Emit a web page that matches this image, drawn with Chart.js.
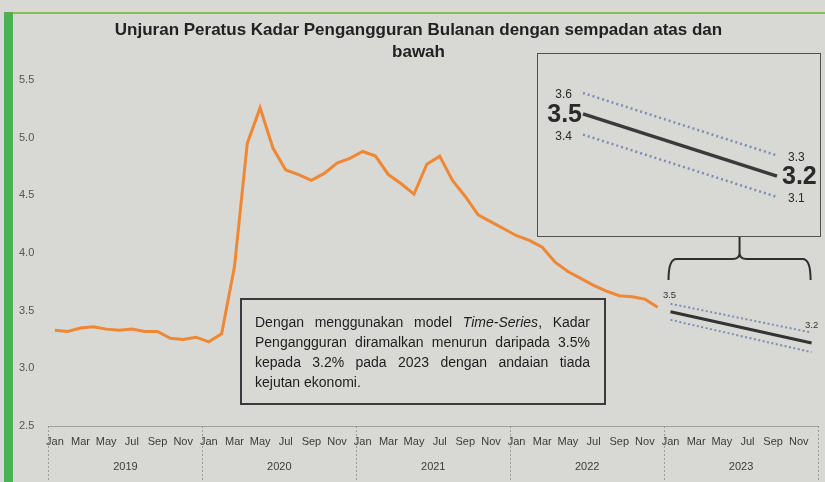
<!DOCTYPE html>
<html lang="ms">
<head>
<meta charset="UTF-8">
<title>Unjuran Peratus Kadar Pengangguran Bulanan</title>
<style>
  html, body { margin: 0; padding: 0; }
  body {
    width: 825px; height: 482px; position: relative; overflow: hidden;
    background: #d8d8d4;
    font-family: 'Liberation Sans', Arial, sans-serif;
  }
  #mainChart { position: absolute; left: 0; top: 0; }
  .frame-top { position: absolute; left: 4px; top: 12px; width: 821px; height: 2px; background: #86c04f; }
  .frame-left { position: absolute; left: 4px; top: 12px; width: 9px; height: 470px; background: #4fb04f; }
  #inset {
    position: absolute; left: 537px; top: 53px; width: 284px; height: 184px;
    border: 1px solid #505050; box-sizing: border-box;
  }
  #inset canvas { position: absolute; left: 0; top: 0; }
  #note {
    position: absolute; left: 240px; top: 298px; width: 366px; height: 107px;
    border: 2px solid #3a3a3a; box-sizing: border-box;
    padding: 12px 14px 0 13px;
    font-size: 14px; line-height: 20px; color: #1e1e1e;
  }
  #note span { display: block; text-align: justify; text-align-last: justify; }
  #note span.last { text-align-last: left; }
</style>
</head>
<body>
<canvas id="mainChart" width="825" height="482"></canvas>
<div class="frame-top"></div>
<div class="frame-left"></div>
<div id="inset"><canvas id="insetChart" width="282" height="182"></canvas></div>
<div id="note">
  <span>Dengan menggunakan model <i>Time-Series</i>, Kadar</span>
  <span>Pengangguran diramalkan menurun daripada 3.5%</span>
  <span>kepada 3.2% pada 2023 dengan andaian tiada</span>
  <span class="last">kejutan ekonomi.</span>
</div>

<script src="https://cdn.jsdelivr.net/npm/chart.js"></script>
<script>
  const months = ['Jan', 'Feb', 'Mar', 'Apr', 'May', 'Jun', 'Jul', 'Aug', 'Sep', 'Oct', 'Nov', 'Dec'];
  const years = ['2019', '2020', '2021', '2022', '2023'];
  const yTicks = [2.5, 3.0, 3.5, 4.0, 4.5, 5.0, 5.5];

  // kadar sebenar, Jan 2019 - Dis 2022
  const actualRate = [
    3.33, 3.32, 3.35, 3.36, 3.34, 3.33, 3.34, 3.32, 3.32, 3.26, 3.25, 3.27,
    3.23, 3.30, 3.88, 4.95, 5.26, 4.91, 4.72, 4.68, 4.63, 4.69, 4.78, 4.82,
    4.88, 4.84, 4.68, 4.60, 4.51, 4.77, 4.84, 4.63, 4.49, 4.33, 4.27, 4.21,
    4.15, 4.11, 4.05, 3.92, 3.84, 3.78, 3.72, 3.67, 3.63, 3.62, 3.60, 3.53
  ];
  // unjuran 2023: Jan dan Dis
  const forecastRate = [3.49, 3.22];
  const upperBound = [3.56, 3.31];
  const lowerBound = [3.42, 3.14];
  // kotak besar (inset)
  const insetRate = [3.5, 3.2];
  const insetUpper = [3.6, 3.3];
  const insetLower = [3.4, 3.1];

  const FONT = "'Liberation Sans', Arial, sans-serif";
  const labels = years.flatMap(y => months.map(m => m + ' ' + y));
  const startIdx = labels.indexOf('Jan 2023');
  const endIdx = labels.indexOf('Dec 2023');

  function padSeries(vals) {
    return labels.map((_, i) => i < vals.length ? vals[i] : null);
  }
  function endpoints(pair) {
    return labels.map((_, i) => i === startIdx ? pair[0] : i === endIdx ? pair[1] : null);
  }

  const mainDecor = {
    id: 'mainDecor',
    afterDraw(chart) {
      const ctx = chart.ctx;
      const area = chart.chartArea;
      const ys = chart.scales.xYear;
      const x = chart.scales.x;
      const y = chart.scales.y;

      // pemisah tahun
      const half = (ys.getPixelForValue(1) - ys.getPixelForValue(0)) / 2;
      ctx.save();
      ctx.strokeStyle = '#9b9b9b';
      ctx.lineWidth = 1;
      ctx.setLineDash([2, 2]);
      for (let k = 0; k <= years.length; k++) {
        const px = k < years.length ? ys.getPixelForValue(k) - half : ys.getPixelForValue(k - 1) + half;
        ctx.beginPath();
        ctx.moveTo(Math.round(px) + 0.5, area.bottom);
        ctx.lineTo(Math.round(px) + 0.5, chart.height);
        ctx.stroke();
      }
      ctx.restore();

      // label unjuran kecil
      ctx.save();
      ctx.font = '9.5px ' + FONT;
      ctx.fillStyle = '#333';
      ctx.textAlign = 'center';
      ctx.textBaseline = 'middle';
      const xs = x.getPixelForValue(startIdx);
      const xe = x.getPixelForValue(endIdx);
      ctx.fillText(forecastRate[0].toFixed(1), xs - 1, y.getPixelForValue(upperBound[0]) - 8);
      ctx.fillText(forecastRate[1].toFixed(1), xe, y.getPixelForValue(upperBound[1]) - 7);
      ctx.restore();

      // kurungan
      const inset = document.getElementById('inset').getBoundingClientRect();
      const yTop = inset.bottom;
      const yH = yTop + 22;
      const yEnd = yH + 21;
      const bl = xs - 2, br = xe - 1, bm = (bl + br) / 2;
      ctx.save();
      ctx.strokeStyle = '#2e2e2e';
      ctx.lineWidth = 2;
      ctx.beginPath();
      ctx.moveTo(bl, yEnd);
      ctx.quadraticCurveTo(bl, yH, bl + 8, yH);
      ctx.lineTo(bm - 7, yH);
      ctx.quadraticCurveTo(bm, yH, bm, yH - 6);
      ctx.lineTo(bm, yTop);
      ctx.moveTo(bm, yH - 6);
      ctx.quadraticCurveTo(bm, yH, bm + 7, yH);
      ctx.lineTo(br - 8, yH);
      ctx.quadraticCurveTo(br, yH, br, yEnd);
      ctx.stroke();
      ctx.restore();
    }
  };

  new Chart(document.getElementById('mainChart'), {
    type: 'line',
    data: {
      labels: labels,
      datasets: [
        {
          label: 'Kadar pengangguran',
          data: padSeries(actualRate),
          borderColor: '#ef8733',
          borderWidth: 3,
          pointRadius: 0,
          tension: 0
        },
        {
          label: 'Sempadan atas',
          data: endpoints(upperBound),
          borderColor: '#7f8db5',
          borderWidth: 2,
          borderDash: [2, 2.5],
          pointRadius: 0,
          spanGaps: true
        },
        {
          label: 'Sempadan bawah',
          data: endpoints(lowerBound),
          borderColor: '#7f8db5',
          borderWidth: 2,
          borderDash: [2, 2.5],
          pointRadius: 0,
          spanGaps: true
        },
        {
          label: 'Unjuran',
          data: endpoints(forecastRate),
          borderColor: '#333',
          borderWidth: 3,
          pointRadius: 0,
          spanGaps: true
        }
      ]
    },
    options: {
      responsive: false,
      animation: false,
      events: [],
      layout: { padding: { left: 19, right: 7, top: 0, bottom: 0 } },
      plugins: {
        legend: { display: false },
        tooltip: { enabled: false },
        title: {
          display: true,
          text: ['Unjuran Peratus Kadar Pengangguran Bulanan dengan sempadan atas dan', 'bawah'],
          color: '#222',
          font: { family: FONT, size: 17, weight: 'bold', lineHeight: 1.3 },
          padding: { top: 19, bottom: 16.8 }
        }
      },
      scales: {
        x: {
          type: 'category',
          offset: true,
          weight: 0,
          grid: { display: false, drawTicks: false },
          border: { display: true, color: '#a0a0a0', dash: [2, 2], width: 1 },
          afterFit: s => { s.height = 25; },
          ticks: {
            autoSkip: false,
            maxRotation: 0,
            padding: 9,
            color: '#3c3c3c',
            font: { family: FONT, size: 11 },
            callback: (v, i) => i % 2 === 0 ? months[i % 12] : ''
          }
        },
        xYear: {
          type: 'category',
          labels: years,
          position: 'bottom',
          offset: true,
          weight: 1,
          grid: { display: false, drawTicks: false },
          border: { display: false },
          afterFit: s => { s.height = 31; },
          ticks: { padding: 9, color: '#3c3c3c', font: { family: FONT, size: 11 } }
        },
        y: {
          min: yTicks[0],
          max: yTicks[yTicks.length - 1],
          grid: { display: false, drawTicks: false },
          border: { display: false },
          afterBuildTicks: s => { s.ticks = yTicks.map(v => ({ value: v })); },
          afterFit: s => { s.width = 29.5; },
          ticks: {
            crossAlign: 'far',
            padding: 0,
            color: '#555',
            font: { family: FONT, size: 11 },
            callback: v => v.toFixed(1)
          }
        }
      }
    },
    plugins: [mainDecor]
  });

  // inset: unjuran diperbesar
  const insetLabels = {
    id: 'insetLabels',
    afterDatasetsDraw(chart) {
      const ctx = chart.ctx;
      ctx.save();
      ctx.fillStyle = '#2a2a2a';
      ctx.textBaseline = 'middle';
      chart.data.datasets.forEach((ds, di) => {
        const pts = chart.getDatasetMeta(di).data;
        const big = ds.label === 'Unjuran';
        ctx.font = (big ? 'bold 25px ' : '12px ') + FONT;
        const a = pts[0], b = pts[pts.length - 1];
        ctx.textAlign = 'right';
        ctx.fillText(ds.data[0].toFixed(1), a.x - (big ? 1 : 11), a.y + (big ? 1 : 2));
        ctx.textAlign = 'left';
        ctx.fillText(ds.data[ds.data.length - 1].toFixed(1), b.x + (big ? 5 : 11), b.y + (big ? 1 : 2));
      });
      ctx.restore();
    }
  };

  new Chart(document.getElementById('insetChart'), {
    type: 'line',
    data: {
      labels: ['Jan 2023', 'Dec 2023'],
      datasets: [
        { label: 'Sempadan atas', data: insetUpper, borderColor: '#7f8db5', borderWidth: 2.5, borderDash: [2, 3], pointRadius: 0 },
        { label: 'Sempadan bawah', data: insetLower, borderColor: '#7f8db5', borderWidth: 2.5, borderDash: [2, 3], pointRadius: 0 },
        { label: 'Unjuran', data: insetRate, borderColor: '#3a3a3a', borderWidth: 3.5, pointRadius: 0 }
      ]
    },
    options: {
      responsive: false,
      animation: false,
      events: [],
      layout: { padding: { left: 45, right: 43, top: 0, bottom: 0 } },
      plugins: { legend: { display: false }, tooltip: { enabled: false }, title: { display: false } },
      scales: {
        x: { display: false, offset: false },
        y: { display: false, min: 2.9125, max: 3.7875 }
      }
    },
    plugins: [insetLabels]
  });
</script>
</body>
</html>
